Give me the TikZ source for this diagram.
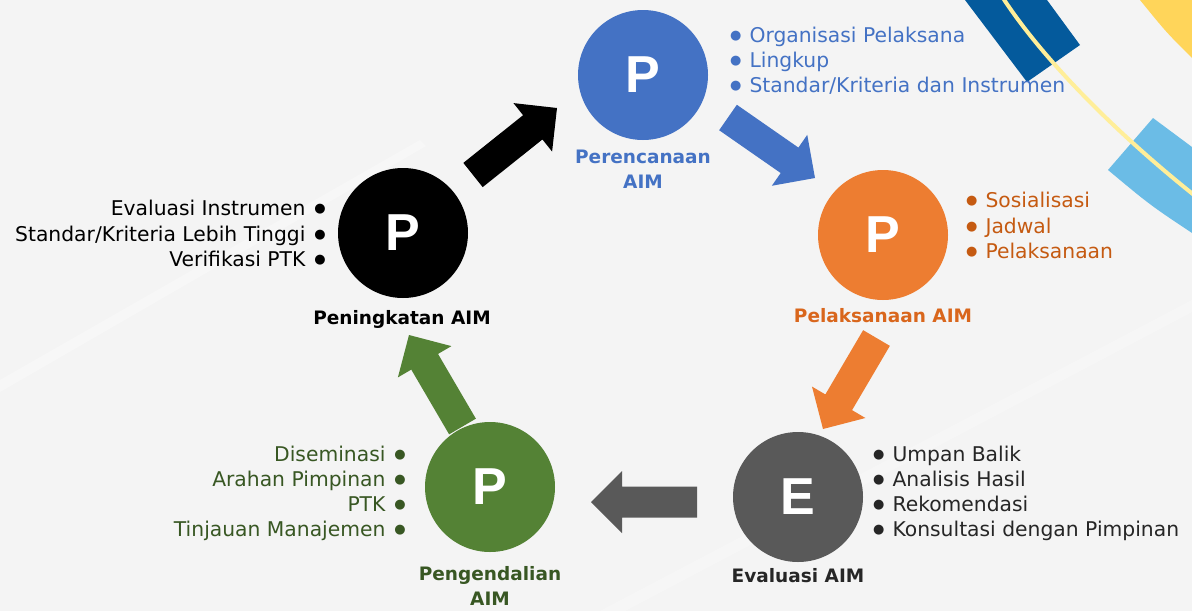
\documentclass[tikz,border=0pt]{standalone}
\usepackage{fontspec}
\setmainfont{DejaVu Sans}
\newfontfamily\circfont{Liberation Sans}
\usetikzlibrary{calc}
\definecolor{bg}{HTML}{F4F4F4}
\definecolor{cblue}{HTML}{4472C4}
\definecolor{corange}{HTML}{ED7D31}
\definecolor{cgray}{HTML}{595959}
\definecolor{cgreen}{HTML}{548235}
\definecolor{tblue}{HTML}{4472C4}
\definecolor{torange}{HTML}{C55A11}
\definecolor{torangeb}{HTML}{D9661C}
\definecolor{tgreen}{HTML}{385723}
\definecolor{tgray}{HTML}{262626}
\definecolor{dblue}{HTML}{045A9C}
\definecolor{lblue}{HTML}{6BBCE6}
\definecolor{cyellow}{HTML}{FFD55A}
\definecolor{lyellow}{HTML}{FFEE99}
\newcommand\bul{\raisebox{3pt}{\fontsize{13}{13}\selectfont ●}}
\newcommand\bl{\bul\hspace{8pt}}
\newcommand\br{\hspace{9pt}\bul}
\newcommand\blockarrow[3]{%
  \coordinate (bn) at ($(#2)!31pt!(#1)$);
  \fill[#3] ($(#1)!15.5pt!90:(#2)$) -- ($(bn)!15.5pt!90:(#2)$) -- ($(bn)!31pt!90:(#2)$) -- (#2)
    -- ($(bn)!31pt!-90:(#2)$) -- ($(bn)!15.5pt!-90:(#2)$) -- ($(#1)!15.5pt!-90:(#2)$) -- cycle;}
\tikzset{
  circ/.style={circle, minimum size=130pt, inner sep=0pt, text=white, font=\circfont\bfseries\fontsize{52}{52}\selectfont},
  lst/.style={inner sep=0pt, font=\fontsize{20.3}{25}\selectfont},
  lbl/.style={inner sep=0pt, font=\bfseries\fontsize{18.5}{24}\selectfont, anchor=base},
}
\begin{document}
\begin{tikzpicture}[x=1pt,y=-1pt]
\fill[bg] (0,0) rectangle (1192,611);
\useasboundingbox (0,0) rectangle (1192,611);
% faint background streaks
\fill[white,opacity=0.3] (0,380) -- (420,140) -- (426,146) -- (0,392) -- cycle;
\fill[white,opacity=0.25] (600,611) -- (1192,300) -- (1192,312) -- (625,611) -- cycle;
% top-right decoration
\fill[dblue] (965,0) -- (1047,0) -- (1080,45) -- (1027,82) -- cycle;
\fill[cyellow] (1140,0) -- (1192,0) -- (1192,58) .. controls (1166,32) .. (1140,0) -- cycle;
\fill[lblue] (1153,118) -- (1192,147) -- (1192,233) .. controls (1150,205) .. (1108,170) -- cycle;
\draw[lyellow, line width=4pt] (1003,-2) .. controls (1040,55) and (1110,128) .. (1194,195);
% circles
\node[circ, fill=cblue] (plan) at (643,75) {P};
\node[circ, fill=corange] (exec) at (883,235) {P};
\node[circ, fill=cgray] (eval) at (798,497) {E};
\node[circ, fill=cgreen] (ctrl) at (490,487) {P};
\node[circ, fill=black] (impr) at (403,233) {P};
% block arrows
\coordinate (a1s) at (473,175); \coordinate (a1e) at (557,108);
\coordinate (a2s) at (728,117.5); \coordinate (a2e) at (815,178);
\coordinate (a3s) at (876.5,338); \coordinate (a3e) at (823,429);
\coordinate (a4s) at (697,502); \coordinate (a4e) at (591,502);
\coordinate (a5s) at (462.5,426.5); \coordinate (a5e) at (409,335);
\blockarrow{a1s}{a1e}{black}
\blockarrow{a2s}{a2e}{cblue}
\blockarrow{a3s}{a3e}{corange}
\blockarrow{a4s}{a4e}{cgray}
\blockarrow{a5s}{a5e}{cgreen}
% labels
\node[lbl, text=tblue] (planl1) at (643,163) {Perencanaan};
\node[lbl, text=tblue] (planl2) at (643,188) {AIM};
\node[lbl, text=torangeb] (execl) at (883,322) {Pelaksanaan AIM};
\node[lbl, text=tgray] (evall) at (798,582) {Evaluasi AIM};
\node[lbl, text=tgreen] (ctrll1) at (490,580) {Pengendalian};
\node[lbl, text=tgreen] (ctrll2) at (490,605) {AIM};
\node[lbl, text=black] (imprl) at (402,324) {Peningkatan AIM};
% lists
\node[lst, text=tblue, anchor=base west] (pb1) at (730,42) {\bl Organisasi Pelaksana};
\node[lst, text=tblue, anchor=base west] (pb2) at (730,67) {\bl Lingkup};
\node[lst, text=tblue, anchor=base west] (pb3) at (730,92) {\bl Standar/Kriteria dan Instrumen};
\node[lst, text=torange, anchor=base west] (eb1) at (966,207) {\bl Sosialisasi};
\node[lst, text=torange, anchor=base west] (eb2) at (966,233) {\bl Jadwal};
\node[lst, text=torange, anchor=base west] (eb3) at (966,258) {\bl Pelaksanaan};
\node[lst, text=tgray, anchor=base west] (vb1) at (873,461) {\bl Umpan Balik};
\node[lst, text=tgray, anchor=base west] (vb2) at (873,486) {\bl Analisis Hasil};
\node[lst, text=tgray, anchor=base west] (vb3) at (873,511) {\bl Rekomendasi};
\node[lst, text=tgray, anchor=base west] (vb4) at (873,536) {\bl Konsultasi dengan Pimpinan};
\node[lst, text=black, anchor=base east] (ib1) at (326,215) {Evaluasi Instrumen\br};
\node[lst, text=black, anchor=base east] (ib2) at (326,241) {Standar/Kriteria Lebih Tinggi\br};
\node[lst, text=black, anchor=base east] (ib3) at (326,266) {Verifikasi PTK\br};
\node[lst, text=tgreen, anchor=base east] (cb1) at (406,461) {Diseminasi\br};
\node[lst, text=tgreen, anchor=base east] (cb2) at (406,486) {Arahan Pimpinan\br};
\node[lst, text=tgreen, anchor=base east] (cb3) at (406,511) {PTK\br};
\node[lst, text=tgreen, anchor=base east] (cb4) at (406,536) {Tinjauan Manajemen\br};
\end{tikzpicture}
\end{document}
